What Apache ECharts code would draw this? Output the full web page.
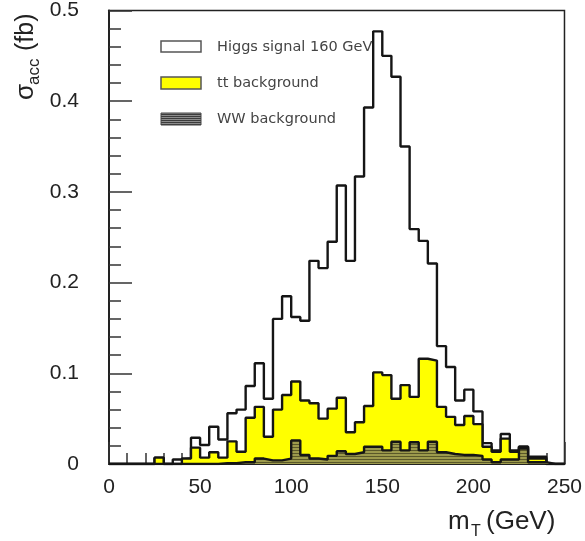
<!DOCTYPE html>
<html>
<head>
<meta charset="utf-8">
<script src="https://cdn.jsdelivr.net/npm/echarts@6/dist/echarts.min.js"></script>
<style>
html,body{margin:0;padding:0;background:#ffffff;}
#chart{width:585px;height:541px;}
</style>
</head>
<body>
<div id="chart"></div>
<script>
// Bin edges of the m_T histogram (GeV), 5 GeV bins
const binEdgesGeV = [0,5,10,15,20,25,30,35,40,45,50,55,60,65,70,75,80,85,90,95,
  100,105,110,115,120,125,130,135,140,145,150,155,160,165,170,175,180,185,190,195,
  200,205,210,215,220,225,230,235,240,245,250];

// Stacked top of Higgs signal (signal + tt + WW), fb per bin
const higgsStackTop = [0,0,0,0,0,0.007,0,0.005,0.006,0.029,
  0.021,0.041,0.027,0.056,0.060,0.086,0.111,0.072,0.160,0.185,
  0.162,0.158,0.224,0.216,0.245,0.307,0.224,0.317,0.393,0.477,
  0.450,0.427,0.350,0.259,0.246,0.221,0.130,0.107,0.070,0.082,
  0.058,0.023,0.015,0.033,0.015,0.019,0.008,0.008,0,0];

// Stacked top of tt background (tt + WW)
const ttStackTop = [0,0,0,0,0,0.007,0,0,0.006,0.018,
  0.007,0.013,0.007,0.025,0.0135,0.051,0.063,0.030,0.060,0.076,
  0.091,0.070,0.067,0.050,0.061,0.073,0.035,0.046,0.064,0.101,
  0.098,0.072,0.087,0.074,0.116,0.114,0.063,0.052,0.043,0.053,
  0.044,0.019,0.0135,0.028,0.0135,0.019,0.006,0.006,0,0];

// WW background
const wwBackground = [0,0,0,0,0,0,0,0,0,0,
  0,0,0.001,0.001,0.002,0.002,0.006,0.004,0.004,0.006,
  0.026,0.010,0.006,0.005,0.009,0.014,0.011,0.013,0.019,0.019,
  0.015,0.0245,0.015,0.024,0.015,0.0245,0.013,0.011,0.010,0.010,
  0.009,0.005,0.002,0.005,0.005,0.017,0.002,0.002,0,0];

const xTickValues = [0,50,100,150,200,250];
const yTickValues = [0,0.1,0.2,0.3,0.4,0.5];

const seriesNames = ['Higgs signal 160 GeV','tt background','WW background'];

function stepData(vals){
  const d = vals.map((v,i)=>[binEdgesGeV[i], v]);
  d.push([binEdgesGeV[binEdgesGeV.length-1], vals[vals.length-1]]);
  return d;
}

function stripePattern(dark, light, darkRows, lightRows){
  const c = document.createElement('canvas');
  c.width = 4; c.height = darkRows + lightRows;
  const ctx = c.getContext('2d');
  ctx.fillStyle = light; ctx.fillRect(0,0,4,c.height);
  ctx.fillStyle = dark; ctx.fillRect(0,0,4,darkRows);
  return c;
}
const wwPlotPattern = stripePattern('#5a5829','#9c9a4c',1,2);
const wwLegendPattern = stripePattern('#3c3c3c','#8c8c8c',1,1);

const FONT = 'Liberation Sans, Arial, sans-serif';
const chart = echarts.init(document.getElementById('chart'), null, {renderer:'canvas'});

const lineStyle = {color:'#151515', width:2.4};
const option = {
  animation:false,
  backgroundColor:'#ffffff',
  grid:{left:109, top:10, width:456, height:454, show:true, borderColor:'#222', borderWidth:1.5, backgroundColor:'transparent'},
  xAxis:{
    type:'value', min:xTickValues[0], max:xTickValues[xTickValues.length-1], interval:50,
    axisLine:{show:true, onZero:false, lineStyle:{color:'#222', width:2}},
    axisTick:{show:true, inside:true, length:22, lineStyle:{color:'#333', width:1.5}},
    minorTick:{show:true, splitNumber:5, length:11, lineStyle:{color:'#333', width:1.5}},
    axisLabel:{fontSize:21, color:'#222', margin:13, fontFamily:FONT},
    splitLine:{show:false}, minorSplitLine:{show:false}
  },
  yAxis:{
    type:'value', min:yTickValues[0], max:yTickValues[yTickValues.length-1], interval:0.1,
    axisLine:{show:true, lineStyle:{color:'#222', width:2}},
    axisTick:{show:true, inside:true, length:23, lineStyle:{color:'#333', width:1.5}},
    minorTick:{show:true, splitNumber:5, length:12, lineStyle:{color:'#333', width:1.5}},
    axisLabel:{fontSize:21, color:'#222', margin:30, fontFamily:FONT,
      formatter:v=> v===0 ? '0' : v.toFixed(1)},
    splitLine:{show:false}, minorSplitLine:{show:false}
  },
  series:[
    {name:seriesNames[0], type:'line', step:'end', symbol:'none', data:stepData(higgsStackTop),
      lineStyle:lineStyle, areaStyle:{color:'#ffffff', opacity:1}, z:2},
    {name:seriesNames[1], type:'line', step:'end', symbol:'none', data:stepData(ttStackTop),
      lineStyle:lineStyle, areaStyle:{color:'#ffff00', opacity:1}, z:3},
    {name:seriesNames[2], type:'line', step:'end', symbol:'none', data:stepData(wwBackground),
      lineStyle:lineStyle, areaStyle:{color:{image:wwPlotPattern, repeat:'repeat'}, opacity:1}, z:4}
  ],
  graphic:[
    // y-axis title
    {type:'group', x:26, y:100, rotation:Math.PI/2, children:[
      {type:'text', x:0, y:0, style:{text:'σ', fontSize:26, fontFamily:FONT, fill:'#222', align:'left', verticalAlign:'middle'}},
      {type:'text', x:15, y:8, style:{text:'acc', fontSize:17, fontFamily:FONT, fill:'#222', align:'left', verticalAlign:'middle'}},
      {type:'text', x:49, y:0, style:{text:'(fb)', fontSize:25, fontFamily:FONT, fill:'#222', align:'left', verticalAlign:'middle'}}
    ]},
    // x-axis title
    {type:'text', x:448, y:522, style:{text:'m', fontSize:26, fontFamily:FONT, fill:'#222', align:'left', verticalAlign:'middle'}},
    {type:'text', x:471, y:532, style:{text:'T', fontSize:16, fontFamily:FONT, fill:'#222', align:'left', verticalAlign:'middle'}},
    {type:'text', x:486, y:522, style:{text:'(GeV)', fontSize:26, fontFamily:FONT, fill:'#222', align:'left', verticalAlign:'middle'}},
    // legend
    {type:'rect', shape:{x:161, y:41, width:40, height:11}, style:{fill:'#ffffff', stroke:'#555', lineWidth:1.5}, z:10},
    {type:'rect', shape:{x:161, y:77, width:40, height:12}, style:{fill:'#ffff00', stroke:'#555', lineWidth:1.5}, z:10},
    {type:'rect', shape:{x:161, y:113, width:40, height:12}, style:{fill:{image:wwLegendPattern, repeat:'repeat'}, stroke:'#444', lineWidth:1}, z:10},
    {type:'text', x:217, y:47, style:{text:seriesNames[0], fontSize:14.5, fontFamily:'DejaVu Sans, sans-serif', fill:'#444', verticalAlign:'middle'}, z:10},
    {type:'text', x:217, y:83, style:{text:seriesNames[1], fontSize:14.5, fontFamily:'DejaVu Sans, sans-serif', fill:'#444', verticalAlign:'middle'}, z:10},
    {type:'text', x:217, y:119, style:{text:seriesNames[2], fontSize:14.5, fontFamily:'DejaVu Sans, sans-serif', fill:'#444', verticalAlign:'middle'}, z:10}
  ]
};
chart.setOption(option);
</script>
</body>
</html>
